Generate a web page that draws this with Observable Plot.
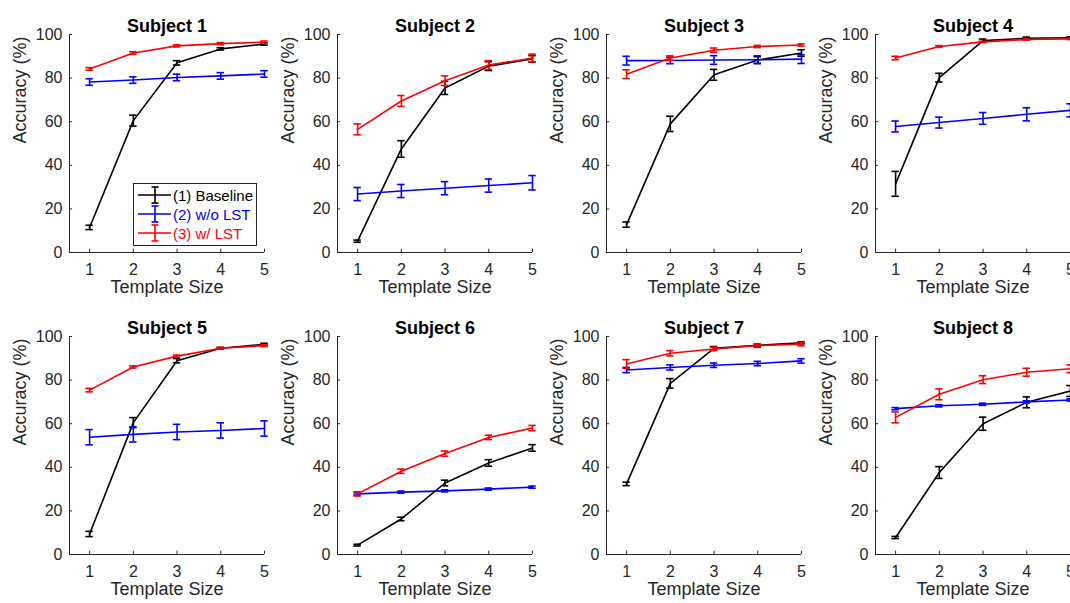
<!DOCTYPE html>
<html>
<head>
<meta charset="utf-8">
<script src="https://cdn.jsdelivr.net/npm/d3@7"></script>
<script src="https://cdn.jsdelivr.net/npm/@observablehq/plot@0.6"></script>
<style>
  body { margin: 0; background: #fff; }
  #chart { position: relative; width: 1070px; height: 603px; overflow: hidden; background: #fff;
           font-family: "Liberation Sans", Arial, Helvetica, sans-serif; }
  .panel { position: absolute; width: 270px; height: 300px; }
  .panel svg { max-width: none !important; display: block; }
  #legend { position: absolute; left: 133px; top: 183px; width: 124px; height: 63px;
            border: 1px solid #262626; background: #fff; box-sizing: border-box; }
  .lg-row { position: absolute; left: 0; height: 18px; display: flex; align-items: center;
            font-size: 15px; white-space: nowrap; }
  .lg-row svg { display: block; }
</style>
</head>
<body>
<div id="chart"></div>
<script>
// ---- data ----
const subjects = ["Subject 1", "Subject 2", "Subject 3", "Subject 4",
                  "Subject 5", "Subject 6", "Subject 7", "Subject 8"];
const templateSizes = [1, 2, 3, 4, 5];
const yTicks = [0, 20, 40, 60, 80, 100];

const seriesNames = ["(1) Baseline", "(2) w/o LST", "(3) w/ LST"];
const seriesColors = ["#000000", "#0000ff", "#ff0000"];

// (1) Baseline: mean and error per subject
const baselineMean = [
  [11.5, 60.5, 87.0, 93.4, 95.6],
  [5.2, 47.5, 75.5, 85.5, 88.8],
  [12.8, 59.0, 81.5, 88.3, 91.5],
  [31.5, 80.2, 97.2, 98.3, 98.5],
  [9.4, 60.5, 88.9, 94.6, 96.4],
  [4.3, 16.3, 32.8, 42.0, 48.9],
  [32.4, 78.5, 94.6, 96.0, 97.1],
  [7.8, 37.6, 60.0, 69.8, 75.0]
];
const baselineErr = [
  [1.0, 2.5, 1.0, 0.5, 0.5],
  [0.5, 3.8, 3.0, 2.0, 1.5],
  [1.2, 3.5, 2.5, 1.5, 1.5],
  [5.7, 2.0, 0.7, 0.5, 0.5],
  [1.2, 2.3, 1.0, 0.4, 0.5],
  [0.4, 0.8, 1.3, 1.5, 1.5],
  [0.8, 2.2, 0.8, 0.6, 0.5],
  [0.5, 2.7, 3.0, 2.5, 2.5]
];
// (2) w/o LST
const woLstMean = [
  [78.2, 79.1, 80.3, 81.0, 81.9],
  [26.8, 28.2, 29.5, 30.7, 32.0],
  [88.0, 88.1, 88.3, 88.4, 88.7],
  [57.8, 59.6, 61.5, 63.4, 65.2],
  [53.8, 55.1, 56.2, 56.9, 57.8],
  [27.8, 28.6, 29.2, 30.0, 30.9],
  [84.6, 85.8, 86.8, 87.6, 88.8],
  [66.9, 68.2, 68.9, 70.0, 70.9]
];
const woLstErr = [
  [1.5, 1.5, 1.5, 1.5, 1.5],
  [3.0, 3.0, 3.0, 3.0, 3.3],
  [2.0, 1.5, 2.0, 1.8, 2.0],
  [2.5, 2.5, 2.7, 3.0, 3.0],
  [3.5, 3.5, 3.5, 3.5, 3.5],
  [0.5, 0.5, 0.5, 0.5, 0.5],
  [1.2, 1.2, 1.0, 1.0, 1.0],
  [0.5, 0.5, 0.5, 0.5, 0.5]
];
// (3) w/ LST
const wLstMean = [
  [84.2, 91.5, 94.8, 95.8, 96.5],
  [56.5, 69.5, 78.8, 86.0, 89.2],
  [81.8, 89.2, 92.8, 94.5, 95.2],
  [89.2, 94.5, 96.6, 97.7, 98.0],
  [75.4, 86.0, 91.0, 94.6, 95.8],
  [27.8, 38.2, 46.3, 53.7, 58.0],
  [87.4, 92.3, 94.3, 95.8, 96.5],
  [62.9, 73.5, 80.2, 83.6, 85.2]
];
const wLstErr = [
  [0.6, 0.6, 0.5, 0.5, 0.5],
  [2.5, 2.5, 2.2, 2.0, 1.8],
  [2.0, 1.0, 1.0, 0.5, 0.5],
  [0.8, 0.4, 0.3, 0.3, 0.3],
  [0.8, 0.5, 0.5, 0.4, 0.4],
  [1.0, 1.0, 1.2, 1.0, 1.2],
  [2.0, 1.2, 0.8, 0.8, 0.8],
  [2.5, 2.5, 1.8, 1.8, 1.8]
];

const means = [baselineMean, woLstMean, wLstMean];
const errs = [baselineErr, woLstErr, wLstErr];

// ---- layout ----
const FONT = '"Liberation Sans", Arial, Helvetica, sans-serif';
const AXIS = "#262626";
const xDomain = [0.54, 5];
const capHalf = 0.085;
const lw = 1.6;
const panelW = 270, panelH = 300;
const colLeft = [0, 268, 537, 806];
const rowTop = [0, 302];

const chart = document.getElementById("chart");

subjects.forEach((subject, i) => {
  const rows = [];
  seriesNames.forEach((name, k) => {
    templateSizes.forEach((t, j) => {
      rows.push({series: k, x: t, y: means[k][i][j], e: errs[k][i][j]});
    });
  });

  const marks = [
    Plot.ruleY([0], {stroke: AXIS, strokeWidth: 1}),
    Plot.ruleX([xDomain[0]], {stroke: AXIS, strokeWidth: 1}),
    Plot.ruleX(templateSizes, {x: d => d, y1: 0, y2: 1.5, stroke: AXIS, strokeWidth: 1}),
    Plot.ruleY(yTicks, {y: d => d, x1: xDomain[0], x2: xDomain[0] + 0.07, stroke: AXIS, strokeWidth: 1}),
    Plot.axisX({ticks: templateSizes, tickSize: 0, tickPadding: 11, fontSize: 16, label: null, tickFormat: d => String(d)}),
    Plot.axisY({ticks: yTicks, tickSize: 0, tickPadding: 7, fontSize: 16, label: null, tickFormat: d => String(d)})
  ];

  seriesNames.forEach((name, k) => {
    const d = rows.filter(r => r.series === k);
    const c = seriesColors[k];
    marks.push(Plot.line(d, {x: "x", y: "y", stroke: c, strokeWidth: lw}));
    marks.push(Plot.ruleX(d, {x: "x", y1: r => r.y - r.e, y2: r => r.y + r.e, stroke: c, strokeWidth: lw}));
    marks.push(Plot.ruleY(d, {y: r => r.y - r.e, x1: r => r.x - capHalf, x2: r => r.x + capHalf, stroke: c, strokeWidth: lw}));
    marks.push(Plot.ruleY(d, {y: r => r.y + r.e, x1: r => r.x - capHalf, x2: r => r.x + capHalf, stroke: c, strokeWidth: lw}));
  });

  marks.push(Plot.text([subject], {text: d => d, frameAnchor: "top", dy: -15, fontSize: 18, fontWeight: "bold", fill: "#000"}));
  marks.push(Plot.text(["Template Size"], {text: d => d, frameAnchor: "bottom", dy: 40, fontSize: 18, fill: AXIS}));
  marks.push(Plot.text(["Accuracy (%)"], {text: d => d, frameAnchor: "left", dx: -49, rotate: -90, fontSize: 18, fill: AXIS}));

  const svg = Plot.plot({
    width: panelW,
    height: panelH,
    marginLeft: 69,
    marginRight: 6,
    marginTop: 34,
    marginBottom: 48,
    style: {fontFamily: FONT, color: AXIS, background: "transparent", overflow: "visible", maxWidth: "none"},
    x: {type: "linear", domain: xDomain},
    y: {type: "linear", domain: [0, 100]},
    marks
  });
  svg.style.maxWidth = "none";
  svg.style.width = panelW + "px";
  svg.style.height = panelH + "px";
  const wrap = document.createElement("div");
  wrap.className = "panel";
  wrap.style.left = colLeft[i % 4] + "px";
  wrap.style.top = rowTop[Math.floor(i / 4)] + "px";
  wrap.appendChild(svg);
  chart.appendChild(wrap);
});

// ---- legend (in Subject 1 panel) ----
const legend = document.createElement("div");
legend.id = "legend";
const rowY = [2, 21, 40];
seriesNames.forEach((name, k) => {
  const row = document.createElement("div");
  row.className = "lg-row";
  row.style.top = rowY[k] + "px";
  const c = seriesColors[k];
  row.innerHTML =
    `<svg width="39" height="18" viewBox="0 0 39 18">
       <line x1="4" y1="9" x2="37" y2="9" stroke="${c}" stroke-width="1.6"/>
       <line x1="21" y1="1" x2="21" y2="17" stroke="${c}" stroke-width="1.6"/>
       <line x1="17.5" y1="1" x2="24.5" y2="1" stroke="${c}" stroke-width="1.6"/>
       <line x1="17.5" y1="17" x2="24.5" y2="17" stroke="${c}" stroke-width="1.6"/>
     </svg><span style="color:${c}">${name}</span>`;
  legend.appendChild(row);
});
chart.appendChild(legend);
</script>
</body>
</html>
